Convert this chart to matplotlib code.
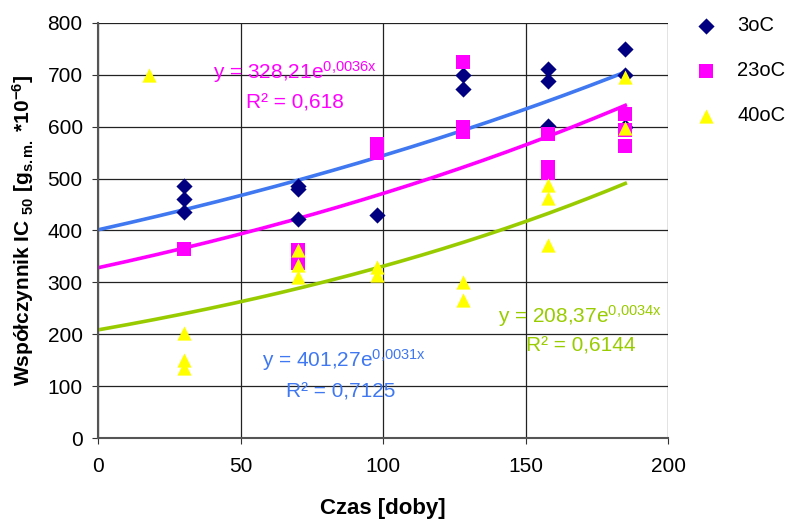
import matplotlib
matplotlib.use("Agg")
import matplotlib.pyplot as plt
import numpy as np

plt.rcParams['font.family'] = ['Liberation Sans', 'DejaVu Sans']
plt.rcParams['mathtext.fontset'] = 'custom'
plt.rcParams['mathtext.rm'] = 'Liberation Sans'
plt.rcParams['mathtext.it'] = 'Liberation Sans:italic'
plt.rcParams['mathtext.bf'] = 'Liberation Sans:bold'
plt.rcParams['mathtext.default'] = 'regular'

# Data
x_3 = [30, 30, 30, 70, 70, 70, 98, 128, 128, 158, 158, 158, 185, 185, 185]
y_3 = [485, 460, 435, 485, 480, 423, 430, 699, 672, 711, 688, 601, 750, 700, 600]
x_23 = [30, 70, 70, 98, 98, 128, 128, 128, 158, 158, 158, 185, 185, 185]
y_23 = [364, 362, 337, 567, 550, 724, 600, 590, 586, 523, 510, 624, 593, 563]
x_40 = [18, 30, 30, 30, 70, 70, 70, 98, 98, 128, 128, 158, 158, 158, 185, 185]
y_40 = [700, 203, 150, 135, 362, 333, 311, 330, 315, 301, 266, 487, 462, 372, 696, 597]

# Trend lines (a * exp(b x)) as drawn in the chart
trend_a = [401.27, 328.21, 208.37]
trend_b = [0.00305, 0.00362, 0.00463]
trend_xmax = 185
trend_colors = ['#3F78F0', '#FF00FF', '#99CC00']

series_names = ['3oC', '23oC', '40oC']
xticks = [0, 50, 100, 150, 200]
yticks = [0, 100, 200, 300, 400, 500, 600, 700, 800]

fig = plt.figure(figsize=(7.87, 5.22), dpi=100)
ax = fig.add_axes([98/787, 1-438/522, (668-98)/787, (438-23)/522])

xs = np.linspace(0, trend_xmax, 200)
for a, b, c in zip(trend_a, trend_b, trend_colors):
    ax.plot(xs, a*np.exp(b*xs), color=c, lw=2.6, zorder=2)

ax.scatter(x_3, y_3, marker='D', s=68, color='#000080', zorder=3, label=series_names[0], linewidths=0)
ax.scatter(x_23, y_23, marker='s', s=88, color='#FF00FF', zorder=3, label=series_names[1], linewidths=0)
ax.scatter(x_40, y_40, marker='^', s=105, color='#FFFF00', zorder=4, label=series_names[2], linewidths=0)

ax.set_xlim(0, 200)
ax.set_ylim(0, 800)
ax.set_xticks(xticks)
ax.set_yticks(yticks)
ax.tick_params(labelsize=15, direction='out', length=4, color='#333333')
ax.tick_params(axis='x', pad=10)
ax.tick_params(axis='y', pad=7)
ax.grid(True, color='#222222', lw=0.9)
ax.set_axisbelow(True)
for s in ['top', 'right']:
    ax.spines[s].set_visible(False)
for s in ['left', 'bottom']:
    ax.spines[s].set_color('#555555')
    ax.spines[s].set_linewidth(1.5)

ax.set_xlabel('Czas [doby]', fontsize=16, fontweight='bold')
ax.xaxis.set_label_coords((383-98)/570, -(498-438)/415)
ax.set_ylabel(r'Współczynnik IC $_{\mathbf{50}}$ [g$_{\mathbf{s.m.}}$ *10$^{\mathbf{-6}}$]',
              fontsize=15, fontweight='bold')
ax.yaxis.set_label_coords(-(98-36)/570, (438-230)/415)

fs = 15
ax.text(40.5, 705, r'y = 328,21e$^{0{,}0036x}$', color='#FF00FF', fontsize=fs, va='center')
ax.text(52, 645, 'R² = 0,618', color='#FF00FF', fontsize=fs, va='center')
ax.text(57.5, 150, r'y = 401,27e$^{0{,}0031x}$', color='#3F78F0', fontsize=fs, va='center')
ax.text(66, 88, 'R² = 0,7125', color='#3F78F0', fontsize=fs, va='center')
ax.text(140.5, 235, r'y = 208,37e$^{0{,}0034x}$', color='#99CC00', fontsize=fs, va='center')
ax.text(150, 177, 'R² = 0,6144', color='#99CC00', fontsize=fs, va='center')

leg = fig.legend(loc='upper left', bbox_to_anchor=(682/787, 1-2/522), frameon=False,
                 fontsize=14.5, labelspacing=1.3, handletextpad=1.05, scatterpoints=1,
                 handlelength=1.0, borderpad=0.2)

fig.savefig('out.png', dpi=100)
